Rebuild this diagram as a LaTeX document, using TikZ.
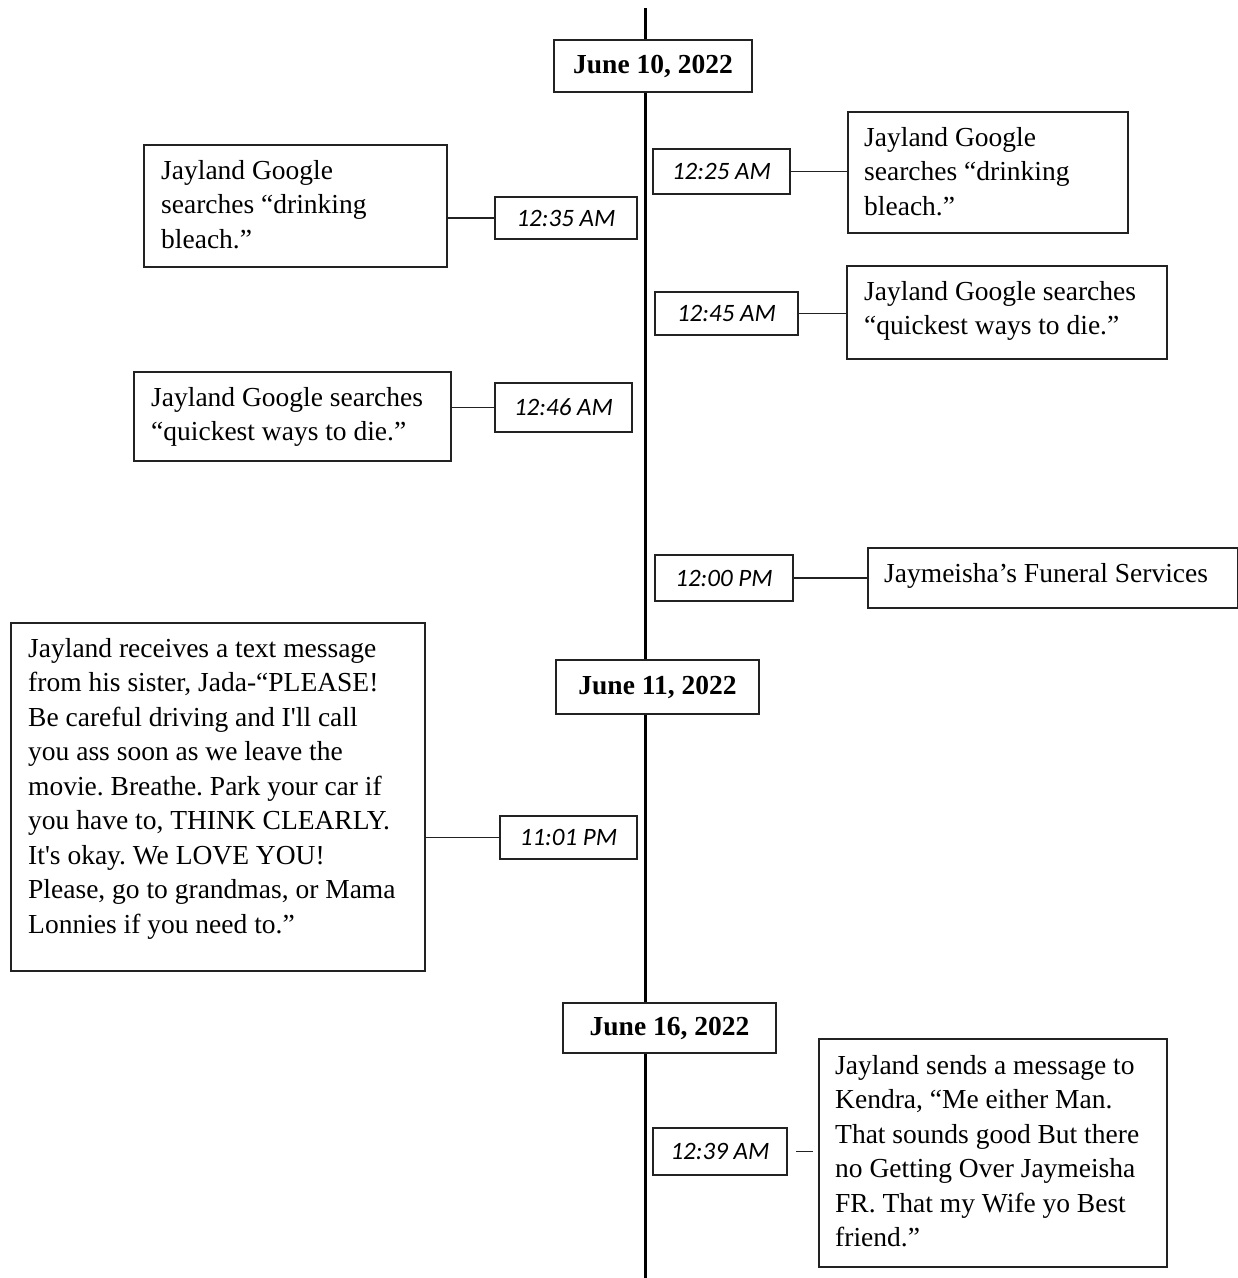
\documentclass[tikz,border=0pt]{standalone}
\usepackage{fontspec}
\setmainfont{Liberation Serif}
\newfontfamily\timefont{Carlito}
\definecolor{linec}{HTML}{222222}
\frenchspacing
\begin{document}
\begin{tikzpicture}[x=1pt,y=-1pt,
  evbox/.style={draw=linec, line width=1.5pt, fill=white, inner sep=0pt, anchor=north west},
  evtext/.style={inner sep=0pt, anchor=north west, align=left, font=\fontsize{27.5}{34.5}\selectfont\frenchspacing},
  datebox/.style={draw=linec, line width=1.5pt, fill=white, inner sep=0pt, font=\fontsize{27.5}{33}\selectfont\bfseries},
  timebox/.style={draw=linec, line width=1.5pt, fill=white, inner sep=0pt, font=\fontsize{25}{30}\selectfont\timefont\itshape},
  conn/.style={draw=linec, line width=1.7pt}
]
\useasboundingbox (0,0) rectangle (1238,1278);
\coordinate (ltop) at (645,8);
\coordinate (lbot) at (645,1278);
\draw[line width=3pt, black] (ltop) -- (lbot);

% date boxes
\node[datebox, minimum width=198pt, minimum height=52pt] (d1) at (653,66) {June 10, 2022};
\node[datebox, minimum width=203pt, minimum height=54pt] (d2) at (657.5,687) {June 11, 2022};
\node[datebox, minimum width=213pt, minimum height=50pt] (d3) at (669.5,1028) {June 16, 2022};

% time boxes
\node[timebox, minimum width=137pt, minimum height=45pt] (t1) at (721.5,171.5) {12:25 AM};
\node[timebox, minimum width=142pt, minimum height=42pt] (t2) at (566,218) {12:35 AM};
\node[timebox, minimum width=143pt, minimum height=43pt] (t3) at (726.5,313.5) {12:45 AM};
\node[timebox, minimum width=137pt, minimum height=49pt] (t4) at (563.5,407.5) {12:46 AM};
\node[timebox, minimum width=138pt, minimum height=46pt] (t5) at (724,578) {12:00 PM};
\node[timebox, minimum width=137pt, minimum height=43pt] (t6) at (568.5,837.5) {11:01 PM};
\node[timebox, minimum width=134pt, minimum height=47pt] (t7) at (720,1151.5) {12:39 AM};

% event boxes
\node[evbox, minimum width=280pt, minimum height=121pt] (eA) at (847,111) {};
\node[evbox, minimum width=303pt, minimum height=122pt] (eB) at (143,144) {};
\node[evbox, minimum width=320pt, minimum height=93pt] (eC) at (846,265) {};
\node[evbox, minimum width=317pt, minimum height=89pt] (eD) at (133,371) {};
\node[evbox, minimum width=370pt, minimum height=60pt] (eE) at (867,547) {};
\node[evbox, minimum width=414pt, minimum height=348pt] (eF) at (10,622) {};
\node[evbox, minimum width=348pt, minimum height=228pt] (eG) at (818,1038) {};

\node[evtext] (eAt) at ([shift={(17,16)}]eA.north west) {Jayland Google\\searches “drinking\\bleach.”};
\node[evtext] (eBt) at ([shift={(18,16)}]eB.north west) {Jayland Google\\searches “drinking\\bleach.”};
\node[evtext] (eCt) at ([shift={(18,16)}]eC.north west) {Jayland Google searches\\“quickest ways to die.”};
\node[evtext] (eDt) at ([shift={(18,16)}]eD.north west) {Jayland Google searches\\“quickest ways to die.”};
\node[evtext] (eEt) at ([shift={(17,16)}]eE.north west) {Jaymeisha’s Funeral Services};
\node[evtext] (eFt) at ([shift={(18,16)}]eF.north west) {Jayland receives a text message\\from his sister, Jada-“PLEASE!\\Be careful driving and I\textquotesingle ll call\\you ass soon as we leave the\\movie. Breathe. Park your car if\\you have to, THINK CLEARLY.\\It\textquotesingle s okay. We LOVE YOU!\\Please, go to grandmas, or Mama\\Lonnies if you need to.”};
\node[evtext] (eGt) at ([shift={(17,17)}]eG.north west) {Jayland sends a message to\\Kendra, “Me either Man.\\That sounds good But there\\no Getting Over Jaymeisha\\FR. That my Wife yo Best\\friend.”};

% connectors
\draw[conn] (t1.east) -- (t1.east -| eA.west);
\draw[conn] (t2.west) -- (t2.west -| eB.east);
\draw[conn] (t3.east) -- (t3.east -| eC.west);
\draw[conn] (t4.west) -- (t4.west -| eD.east);
\draw[conn] (t5.east) -- (t5.east -| eE.west);
\draw[conn] (t6.west) -- (t6.west -| eF.east);
\draw[conn, shorten <=8pt, shorten >=5pt] (t7.east) -- (t7.east -| eG.west);
\end{tikzpicture}
\end{document}
